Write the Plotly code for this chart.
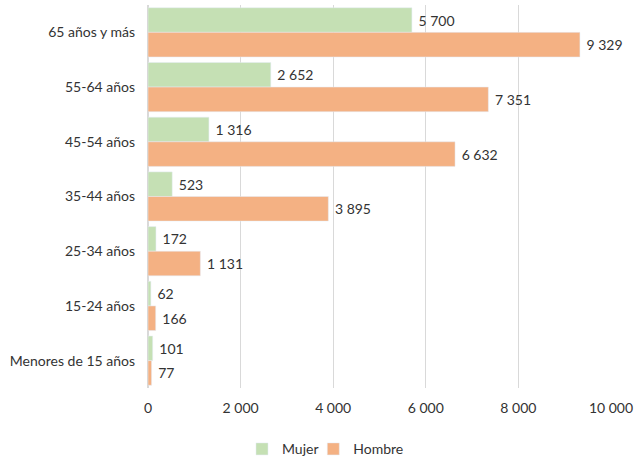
import plotly.graph_objects as go

categories = ["65 años y más", "55-64 años", "45-54 años", "35-44 años",
              "25-34 años", "15-24 años", "Menores de 15 años"]
mujer = [5700, 2652, 1316, 523, 172, 62, 101]
hombre = [9329, 7351, 6632, 3895, 1131, 166, 77]
x_ticks = [0, 2000, 4000, 6000, 8000, 10000]

font_family = "Lato, Open Sans, sans-serif"
text_color = "#333333"

fig = go.Figure()
fig.add_trace(go.Bar(
    y=categories, x=mujer, name="Mujer", orientation="h",
    marker=dict(color="#C5E0B4"),
    texttemplate="\u00a0%{x:,}", textposition="outside",
    textfont=dict(size=14, color=text_color, family=font_family),
    cliponaxis=False, legend="legend",
))
fig.add_trace(go.Bar(
    y=categories, x=hombre, name="Hombre", orientation="h",
    marker=dict(color="#F4B183"),
    texttemplate="\u00a0%{x:,}", textposition="outside",
    textfont=dict(size=14, color=text_color, family=font_family),
    cliponaxis=False, legend="legend2",
))

legend_common = dict(
    orientation="h", xref="paper", yref="paper",
    xanchor="left", y=-0.16, yanchor="middle",
    font=dict(size=14, color=text_color),
    itemwidth=30, bgcolor="rgba(0,0,0,0)",
)

fig.update_layout(
    width=637, height=458,
    separators=", ",
    barmode="group", bargap=0.1, bargroupgap=0,
    plot_bgcolor="white", paper_bgcolor="white",
    font=dict(family=font_family, size=14, color=text_color),
    margin=dict(l=148, r=26, t=5, b=70, autoexpand=False),
    xaxis=dict(
        range=[0, 10000], tickvals=x_ticks, tickformat=",",
        showgrid=True, gridcolor="#D9D9D9", gridwidth=1,
        zeroline=True, zerolinecolor="#D9D9D9",
        showline=False, ticks="", ticklabelstandoff=10,
        tickfont=dict(size=14, color=text_color),
    ),
    yaxis=dict(
        autorange="reversed", showgrid=False, showline=False,
        ticks="", ticklabelstandoff=12,
        tickfont=dict(size=14, color=text_color),
    ),
    legend=dict(x=0.203, **legend_common),
    legend2=dict(x=0.357, **legend_common),
    showlegend=True,
)

fig.write_html("out.html", config={"displayModeBar": False},
               post_script="document.body.style.margin='0';")
